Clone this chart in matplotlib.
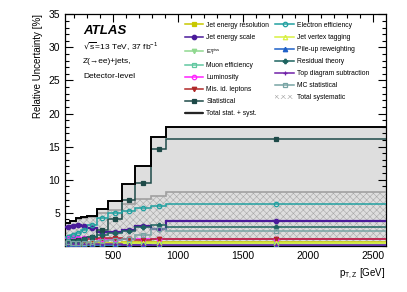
import numpy as np
import matplotlib
matplotlib.use("Agg")
import matplotlib.pyplot as plt
from matplotlib.lines import Line2D
from matplotlib.patches import Patch

plt.rcParams['font.family'] = ['Liberation Sans', 'DejaVu Sans']
plt.rcParams['mathtext.default'] = 'regular'
plt.rcParams['hatch.linewidth'] = 0.4

# ---- data ----
edges = [130, 170, 210, 250, 300, 375, 460, 570, 670, 790, 910, 2600]
total = [3.5, 3.8, 4.15, 4.3, 4.55, 5.5, 6.85, 9.4, 12.0, 16.4, 18.0]
total_syst = [3.4, 3.7, 4.05, 4.15, 4.35, 4.9, 5.4, 6.4, 7.1, 7.5, 8.1]
statistical = [0.7, 0.8, 0.9, 1.1, 1.4, 2.4, 4.1, 6.9, 9.5, 14.6, 16.1]
electron_eff = [1.4, 1.7, 2.0, 2.4, 3.2, 4.2, 4.9, 5.3, 5.65, 6.0, 6.35]
jes = [2.8, 3.0, 3.15, 3.0, 2.7, 2.1, 2.1, 2.4, 3.0, 2.5, 3.8]
residual_theory = [0.5, 0.6, 0.8, 1.0, 1.3, 1.7, 2.0, 2.3, 2.9, 3.2, 2.85]
mc_stat = [0.6, 0.5, 0.5, 0.5, 0.6, 0.7, 0.9, 1.1, 1.7, 2.5, 2.3]
mis_id = [0.4, 0.5, 0.6, 0.8, 1.0, 1.2, 1.2, 1.1, 0.9, 1.0, 1.05]
luminosity = [1.2, 1.2, 1.2, 1.15, 1.15, 1.1, 1.1, 1.1, 1.1, 1.1, 1.05]
jer = [0.3, 0.3, 0.35, 0.35, 0.4, 0.45, 0.5, 0.55, 0.6, 0.65, 0.65]
jvt = [0.2, 0.2, 0.25, 0.25, 0.3, 0.3, 0.35, 0.4, 0.45, 0.5, 0.5]
pileup = [0.15, 0.15, 0.12, 0.12, 0.1, 0.1, 0.08, 0.08, 0.06, 0.05, 0.05]
top_sub = [0.3, 0.3, 0.35, 0.35, 0.3, 0.3, 0.25, 0.2, 0.2, 0.15, 0.1]
etmiss = [0.2, 0.2, 0.2, 0.25, 0.25, 0.3, 0.3, 0.3, 0.3, 0.3, 0.3]
muon_eff = [0.1, 0.1, 0.1, 0.1, 0.1, 0.1, 0.1, 0.1, 0.1, 0.1, 0.1]

edges_a = np.array(edges, dtype=float)
centers = 0.5 * (edges_a[:-1] + edges_a[1:])

fig = plt.figure(figsize=(4.07, 2.92), dpi=100)
ax = fig.add_axes([0.16, 0.158, 0.788, 0.793])

# total band
ax.stairs(total, edges, fill=True, color='#DEDEDE', zorder=1)
ax.stairs(total, edges, color='black', lw=1.4, zorder=6, baseline=None)
# total systematic hatched
ax.stairs(total_syst, edges, fill=True, facecolor='#DEDEDE', edgecolor='#A8A8A8',
          hatch='xxxxx', lw=0, zorder=2)
ax.stairs(total_syst, edges, color='#A0A0A0', lw=1.2, zorder=3, baseline=None)

series = [
    # label, values, color, marker, filled
    ('Jet energy resolution', jer, '#C8C800', 's', True),
    ('Jet energy scale', jes, '#4A1A9A', 'o', True),
    (r'$E_{T}^{miss}$', etmiss, '#90D890', 'v', True),
    ('Muon efficiency', muon_eff, '#60C8A0', 's', False),
    ('Luminosity', luminosity, '#FF20FF', 'o', False),
    ('Mis. id. leptons', mis_id, '#B02828', 'v', True),
    ('Statistical', statistical, '#1E4A48', 's', True),
    ('Electron efficiency', electron_eff, '#20A0A0', 'o', False),
    ('Jet vertex tagging', jvt, '#D8F040', '^', False),
    ('Pile-up reweighting', pileup, '#1E60C8', '^', True),
    ('Residual theory', residual_theory, '#1E6460', 'P', True),
    ('Top diagram subtraction', top_sub, '#7020A8', '+', True),
    ('MC statistical', mc_stat, '#78A4A4', 's', False),
]

handles = {}
z = 4
for label, vals, color, marker, filled in series:
    lw = 1.6 if label == 'Jet energy scale' else 1.1
    ax.stairs(vals, edges, color=color, lw=lw, zorder=z, baseline=None)
    mfc = color if filled else 'none'
    ax.plot(centers, vals, linestyle='none', marker=marker, color=color,
            mfc=mfc, mec=color, ms=3.2, mew=0.9, zorder=z + 0.5)
    handles[label] = Line2D([], [], color=color, lw=1.1, marker=marker,
                            mfc=mfc, mec=color, ms=3.2, mew=0.9)

handles['Total stat. + syst.'] = (Patch(facecolor='#DEDEDE', edgecolor='none'),
                                  Line2D([], [], color='black', lw=1.2))
handles['Total systematic'] = Patch(facecolor='white', edgecolor='#A8A8A8', hatch='xxxxx', lw=0)

order = ['Jet energy resolution', 'Jet energy scale', r'$E_{T}^{miss}$', 'Muon efficiency',
         'Luminosity', 'Mis. id. leptons', 'Statistical', 'Total stat. + syst.',
         'Electron efficiency', 'Jet vertex tagging', 'Pile-up reweighting',
         'Residual theory', 'Top diagram subtraction', 'MC statistical', 'Total systematic']
leg = ax.legend([handles[k] for k in order], order, ncol=2, loc='upper left',
                bbox_to_anchor=(0.36, 0.985), frameon=False, fontsize=4.9,
                handlelength=2.7, handletextpad=0.5, columnspacing=0.9,
                labelspacing=0.75, borderaxespad=0.2)
leg.get_texts()[2].set_fontsize(4.3)

ax.set_xlim(130, 2600)
ax.set_ylim(0, 35)
ax.set_xticks([500, 1000, 1500, 2000, 2500])
ax.set_yticks([5, 10, 15, 20, 25, 30, 35])
ax.set_xticks(np.arange(200, 2600, 100), minor=True)
ax.set_yticks(np.arange(0, 36, 1), minor=True)
ax.tick_params(which='both', direction='in', top=True, right=True, labelsize=7.5, width=0.8)
ax.tick_params(which='major', length=6)
ax.tick_params(which='minor', length=3)
for s in ax.spines.values():
    s.set_linewidth(0.9)

ax.set_xlabel(r'p$_{T,Z}$ [GeV]', loc='right', fontsize=7)
ax.set_ylabel('Relative Uncertainty [%]', loc='top', fontsize=7)

ax.text(0.056, 0.955, 'ATLAS', transform=ax.transAxes, fontsize=9.5,
        fontweight='bold', fontstyle='italic', va='top', ha='left')
ax.text(0.056, 0.86, r'$\sqrt{s}$=13 TeV, 37 fb$^{-1}$', transform=ax.transAxes,
        fontsize=6, va='center', ha='left')
ax.text(0.056, 0.795, 'Z(\u2192ee)+jets,', transform=ax.transAxes,
        fontsize=6, va='center', ha='left')
ax.text(0.056, 0.73, 'Detector-level', transform=ax.transAxes,
        fontsize=6, va='center', ha='left')

fig.savefig('out.png', dpi=100)
